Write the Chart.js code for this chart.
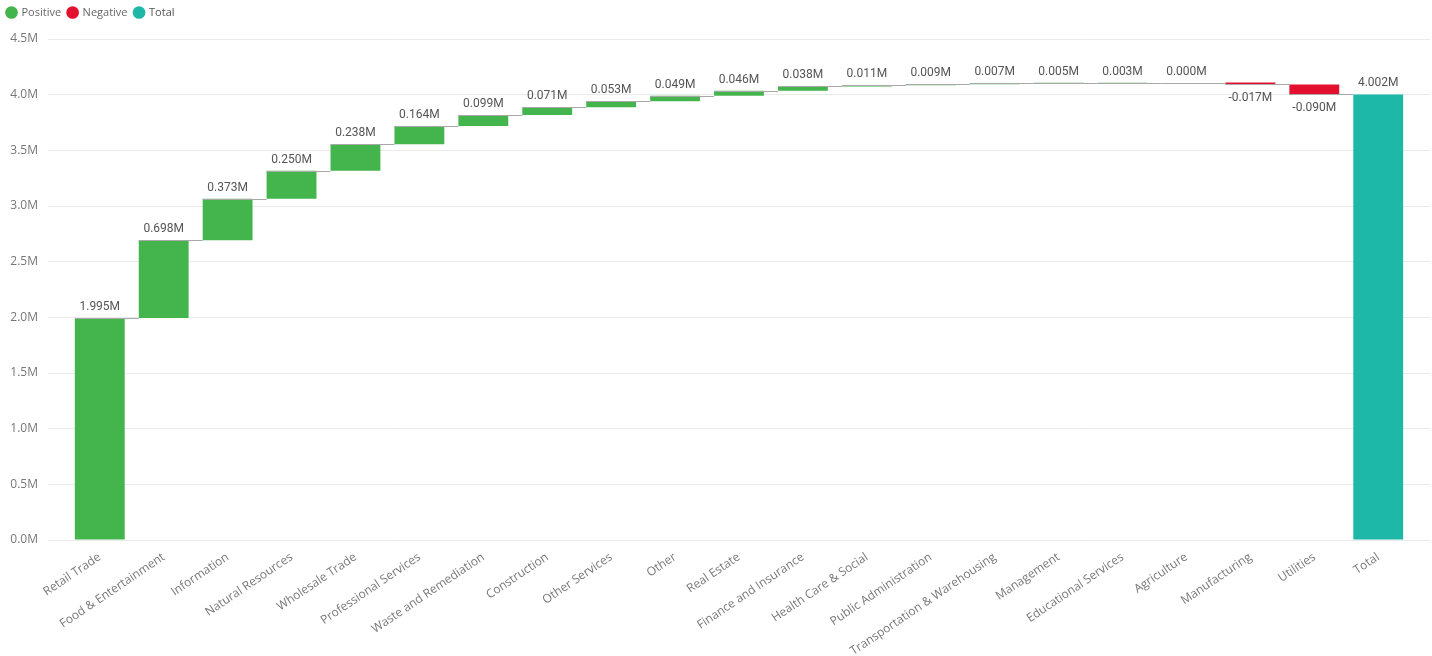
<!DOCTYPE html>
<html>
<head>
<meta charset="utf-8">
<script src="https://cdn.jsdelivr.net/npm/chart.js@4.4.1/dist/chart.umd.min.js"></script>
<style>
  html, body { margin: 0; padding: 0; background: #fff; }
  #wrap { position: relative; width: 1432px; height: 656px; }
</style>
</head>
<body>
<div id="wrap"><canvas id="chart"></canvas></div>
<script>
// Waterfall: contribution by industry, in millions.
const categories = [
  "Retail Trade", "Food & Entertainment", "Information", "Natural Resources",
  "Wholesale Trade", "Professional Services", "Waste and Remediation", "Construction",
  "Other Services", "Other", "Real Estate", "Finance and Insurance",
  "Health Care & Social", "Public Administration", "Transportation & Warehousing",
  "Management", "Educational Services", "Agriculture", "Manufacturing", "Utilities",
];
const changes = [
  1.995, 0.698, 0.373, 0.250, 0.238, 0.164, 0.099, 0.071, 0.053, 0.049,
  0.046, 0.038, 0.011, 0.009, 0.007, 0.005, 0.003, 0.000, -0.017, -0.090,
];
const totalLabel = "Total";
const totalValue = 4.002;
const yTicks = [0, 0.5, 1.0, 1.5, 2.0, 2.5, 3.0, 3.5, 4.0, 4.5];

const POS = "#44b54d";
const NEG = "#e3112f";
const TOT = "#1db8a7";
const INK = "#777";
const GRID = "#ebebeb";
const UI_FONT = '"Segoe UI", "Open Sans", sans-serif';
const NUM_FONT = 'Roboto, "DejaVu Sans", sans-serif';

const labels = categories.concat([totalLabel]);

// running start/end for each step, then the total bar from zero
const bars = [];
const colors = [];
let run = 0;
changes.forEach((d, i) => {
  bars.push({ x: i, y: [run, run + d] });
  colors.push(d < 0 ? NEG : POS);
  run += d;
});
bars.push({ x: categories.length, y: [0, totalValue] });
colors.push(TOT);
const shownValues = changes.concat([totalValue]);

/** Gray step connectors from each bar's end level to the next bar. */
const connectors = {
  id: "connectors",
  afterDatasetsDraw(chart) {
    const { ctx } = chart;
    const meta = chart.getDatasetMeta(0);
    const y = chart.scales.y;
    ctx.save();
    ctx.strokeStyle = "#a8a8a8";
    ctx.lineWidth = 1;
    for (let i = 0; i < meta.data.length - 1; i++) {
      const a = meta.data[i];
      const b = meta.data[i + 1];
      const level = Math.round(y.getPixelForValue(bars[i].y[1])) + 0.5;
      ctx.beginPath();
      ctx.moveTo(a.x - a.width / 2, level);
      ctx.lineTo(b.x - b.width / 2, level);
      ctx.stroke();
    }
    ctx.restore();
  },
};

/** Value labels above rising bars, below falling ones. */
const valueLabels = {
  id: "valueLabels",
  afterDatasetsDraw(chart) {
    const { ctx } = chart;
    const meta = chart.getDatasetMeta(0);
    const y = chart.scales.y;
    ctx.save();
    ctx.font = `12px ${NUM_FONT}`;
    ctx.fillStyle = "#555";
    ctx.textAlign = "center";
    meta.data.forEach((bar, i) => {
      const v = shownValues[i];
      const [lo, hi] = bars[i].y;
      if (v < 0) {
        ctx.textBaseline = "top";
        ctx.fillText(v.toFixed(3) + "M", bar.x, y.getPixelForValue(Math.min(lo, hi)) + 8);
      } else {
        ctx.textBaseline = "bottom";
        ctx.fillText(v.toFixed(3) + "M", bar.x, y.getPixelForValue(Math.max(lo, hi)) - 5);
      }
    });
    ctx.restore();
  },
};

// Leave a little more room under the legend than Chart.js gives by default.
const legendGap = {
  id: "legendGap",
  afterInit(chart) {
    const lg = chart.legend;
    if (!lg) return;
    const fit = lg.fit.bind(lg);
    lg.fit = function () {
      fit();
      this.height += 11;
    };
  },
};

new Chart(document.getElementById("chart"), {
  type: "bar",
  data: {
    datasets: [
      {
        data: bars,
        backgroundColor: colors,
        borderWidth: 0,
        barPercentage: 1,
        categoryPercentage: 0.78,
      },
    ],
  },
  options: {
    responsive: true,
    maintainAspectRatio: false,
    animation: false,
    layout: { padding: { right: 2, top: 0 } },
    plugins: {
      tooltip: { enabled: false },
      legend: {
        display: true,
        position: "top",
        align: "start",
        onClick: () => {},
        labels: {
          usePointStyle: true,
          boxWidth: 9,
          boxHeight: 9,
          padding: 7,
          color: "#666",
          font: { family: UI_FONT, size: 11 },
          generateLabels: () => [
            { text: "Positive", fillStyle: POS, strokeStyle: POS, lineWidth: 0, pointStyle: "circle", fontColor: "#666" },
            { text: "Negative", fillStyle: NEG, strokeStyle: NEG, lineWidth: 0, pointStyle: "circle", fontColor: "#666" },
            { text: "Total", fillStyle: TOT, strokeStyle: TOT, lineWidth: 0, pointStyle: "circle", fontColor: "#555" },
          ],
        },
      },
    },
    scales: {
      x: {
        type: "linear",
        offset: false,
        min: -0.81,
        max: labels.length - 1 + 0.81,
        afterFit: (scale) => { scale.height = 116; },
        grid: { display: false },
        border: { display: false },
        ticks: {
          stepSize: 1,
          includeBounds: false,
          autoSkip: false,
          minRotation: 34,
          maxRotation: 34,
          padding: 2,
          color: INK,
          font: { family: UI_FONT, size: 12 },
          callback: (v) => (Number.isInteger(v) && labels[v] !== undefined ? labels[v] : ""),
        },
      },
      y: {
        min: yTicks[0],
        max: yTicks[yTicks.length - 1],
        afterFit: (scale) => { scale.width = 48; },
        afterBuildTicks: (scale) => { scale.ticks = yTicks.map((v) => ({ value: v })); },
        grid: { color: GRID, drawTicks: false },
        border: { display: false },
        ticks: {
          padding: 10,
          color: INK,
          font: { family: UI_FONT, size: 12 },
          callback: (v) => v.toFixed(1) + "M",
        },
      },
    },
  },
  plugins: [connectors, valueLabels, legendGap],
});
</script>
</body>
</html>
